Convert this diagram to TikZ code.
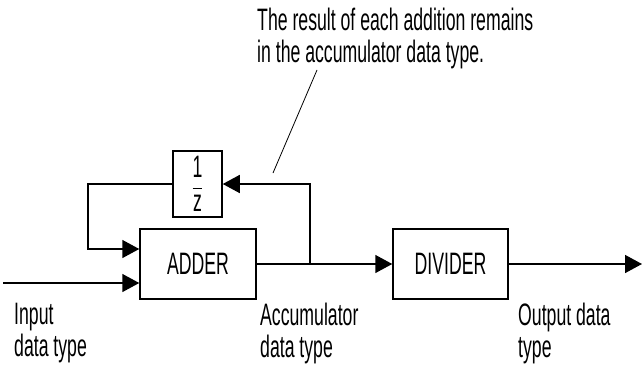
\documentclass[tikz,border=0pt]{standalone}
\usepackage{fontspec}
\setmainfont{Liberation Sans}[FakeStretch=0.57]
\usetikzlibrary{arrows.meta}
\begin{document}
\begin{tikzpicture}[x=1pt, y=-1pt,
    font=\fontsize{31}{32}\selectfont,
    bloque/.style={draw, line width=1.5pt, inner sep=0pt,
      minimum width=116pt, minimum height=70pt},
    senal/.style={line width=1.5pt, -{Triangle[length=17pt, width=18pt]}},
    etiqueta/.style={anchor=north west, align=left, inner sep=0pt}]
    \useasboundingbox (0,0) rectangle (644,367);

    % Bloques
    \node[bloque] (adder) at (198,264) {ADDER};
    \node[bloque, minimum width=115pt] (divider) at (450.5,264) {DIVIDER};
    \node[bloque, minimum width=49pt, minimum height=66pt] (delay) at (197.5,184)
        {$\displaystyle\frac{\mbox{1}}{\mbox{z}}$};

    % Puntos de paso
    \coordinate (entrada) at (3,283);
    \coordinate (retorno) at (88,249);
    \coordinate (rama) at (310,264);
    \coordinate (salida) at (642,264);

    % Entrada y retorno
    \draw[senal] (entrada) -- (adder.west |- entrada);
    \draw[senal] (delay.west) -| (retorno) -- (adder.west |- retorno);

    % Acumulador y salida
    \draw[senal] (adder.east) -- (divider.west);
    \draw[senal] (rama) |- (delay.east);
    \draw[senal] (divider.east) -- (salida);

    % Nota
    \node[etiqueta] (nota) at (257,8)
        {The result of each addition remains\\in the accumulator data type.};
    \coordinate (inicio) at (317,70);
    \coordinate (punta) at (273,173);
    \draw[line width=0.8pt] (inicio) -- (punta);

    % Etiquetas
    \node[etiqueta] (lbl-in) at (14,303) {Input\\data type};
    \node[etiqueta] (lbl-acc) at (260,303) {Accumulator\\data type};
    \node[etiqueta] (lbl-out) at (518,303) {Output data\\type};
\end{tikzpicture}
\end{document}
